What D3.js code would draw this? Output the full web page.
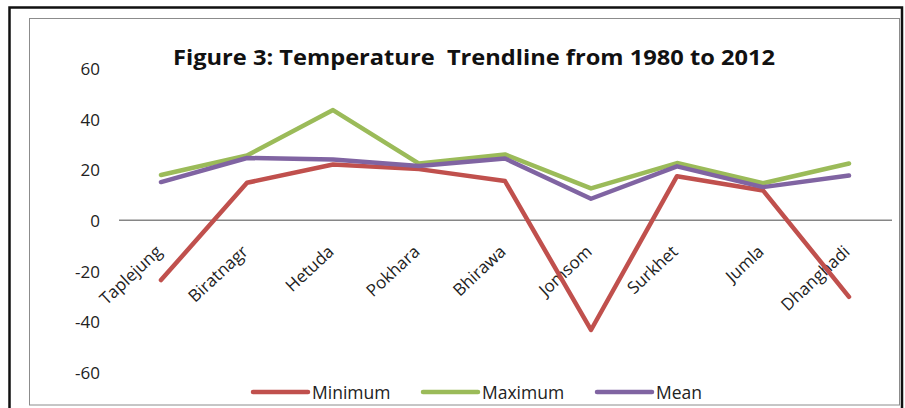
<!DOCTYPE html>
<html>
<head>
<meta charset="utf-8">
<script src="https://cdn.jsdelivr.net/npm/d3@7"></script>
<style>
  html, body { margin: 0; padding: 0; background: #fff; }
  svg { display: block; font-family: "Open Sans", "Liberation Sans", sans-serif; }
</style>
</head>
<body>
<svg id="chart" width="905" height="408"></svg>
<script>
// Stations along the x axis
const categories = ["Taplejung", "Biratnagr", "Hetuda", "Pokhara", "Bhirawa", "Jomsom", "Surkhet", "Jumla", "Dhanghadi"];
// Temperature series (°C)
const minimum = [-23.6, 14.8, 22.0, 20.2, 15.5, -43.3, 17.4, 11.8, -30.2];
const maximum = [17.9, 25.6, 43.5, 22.4, 26.0, 12.6, 22.6, 14.6, 22.4];
const mean    = [15.1, 24.6, 24.0, 21.4, 24.4, 8.5, 21.3, 13.1, 17.7];
const seriesNames = ["Minimum", "Maximum", "Mean"];
const yTicks = [-60, -40, -20, 0, 20, 40, 60];
const titleText = "Figure 3: Temperature  Trendline from 1980 to 2012";

const colors = ["#C0504D", "#9BBB59", "#8064A2"];
const seriesValues = [minimum, maximum, mean];

const svg = d3.select("#chart");

// frames
svg.append("path")
  .attr("d", "M9.5,410 L9.5,7.5 L902,7.5 L902,410")
  .attr("fill", "none").attr("stroke", "#111").attr("stroke-width", 2.5);
svg.append("rect")
  .attr("x", 29.5).attr("y", 18.5).attr("width", 870).attr("height", 386.5)
  .attr("fill", "none").attr("stroke", "#8c8c8c").attr("stroke-width", 1);

// scales
const x = d3.scalePoint().domain(categories).range([118, 892]).padding(0.5);
const y = d3.scaleLinear().domain([-60, 60]).range([372.3, 68.3]);

// title
svg.append("text")
  .attr("x", 173).attr("y", 65)
  .attr("textLength", 602).attr("lengthAdjust", "spacingAndGlyphs")
  .attr("font-size", 21).attr("font-weight", "bold").attr("fill", "#111")
  .attr("xml:space", "preserve")
  .text(titleText);

// y axis labels (no axis line), plain hyphen for negatives
const yAxis = d3.axisLeft(y).tickValues(yTicks).tickSize(0).tickPadding(0)
  .tickFormat(d => String(d));
const yg = svg.append("g").attr("transform", "translate(100,0)").call(yAxis);
yg.select(".domain").remove();
yg.selectAll("text")
  .attr("font-family", "Open Sans, sans-serif")
  .attr("font-size", 17).attr("fill", "#222").attr("dy", "0.36em");

// horizontal category axis at zero
svg.append("line")
  .attr("x1", 119).attr("x2", 892)
  .attr("y1", y(0)).attr("y2", y(0))
  .attr("stroke", "#868686").attr("stroke-width", 1.5);

// rotated category labels
svg.append("g").selectAll("text")
  .data(categories).join("text")
  .attr("transform", d => `translate(${x(d) + 2},253) rotate(-43)`)
  .attr("text-anchor", "end")
  .attr("font-size", 17).attr("fill", "#222")
  .text(d => d);

// series lines
const line = d3.line()
  .x((d, i) => x(categories[i]))
  .y(d => y(d));

svg.append("g").selectAll("path")
  .data(seriesValues).join("path")
  .attr("d", d => line(d))
  .attr("fill", "none")
  .attr("stroke", (d, i) => colors[i])
  .attr("stroke-width", 4.5)
  .attr("stroke-linejoin", "round")
  .attr("stroke-linecap", "round");

// legend
const legendX = [253, 423, 597];
const lg = svg.append("g").selectAll("g")
  .data(seriesNames).join("g")
  .attr("transform", (d, i) => `translate(${legendX[i]},392)`);
lg.append("line")
  .attr("x1", 0).attr("x2", 55).attr("y1", 0).attr("y2", 0)
  .attr("stroke", (d, i) => colors[i]).attr("stroke-width", 4.5)
  .attr("stroke-linecap", "round");
lg.append("text")
  .attr("x", 59).attr("y", 6.5)
  .attr("font-size", 17.5).attr("fill", "#222")
  .text(d => d);
</script>
</body>
</html>
